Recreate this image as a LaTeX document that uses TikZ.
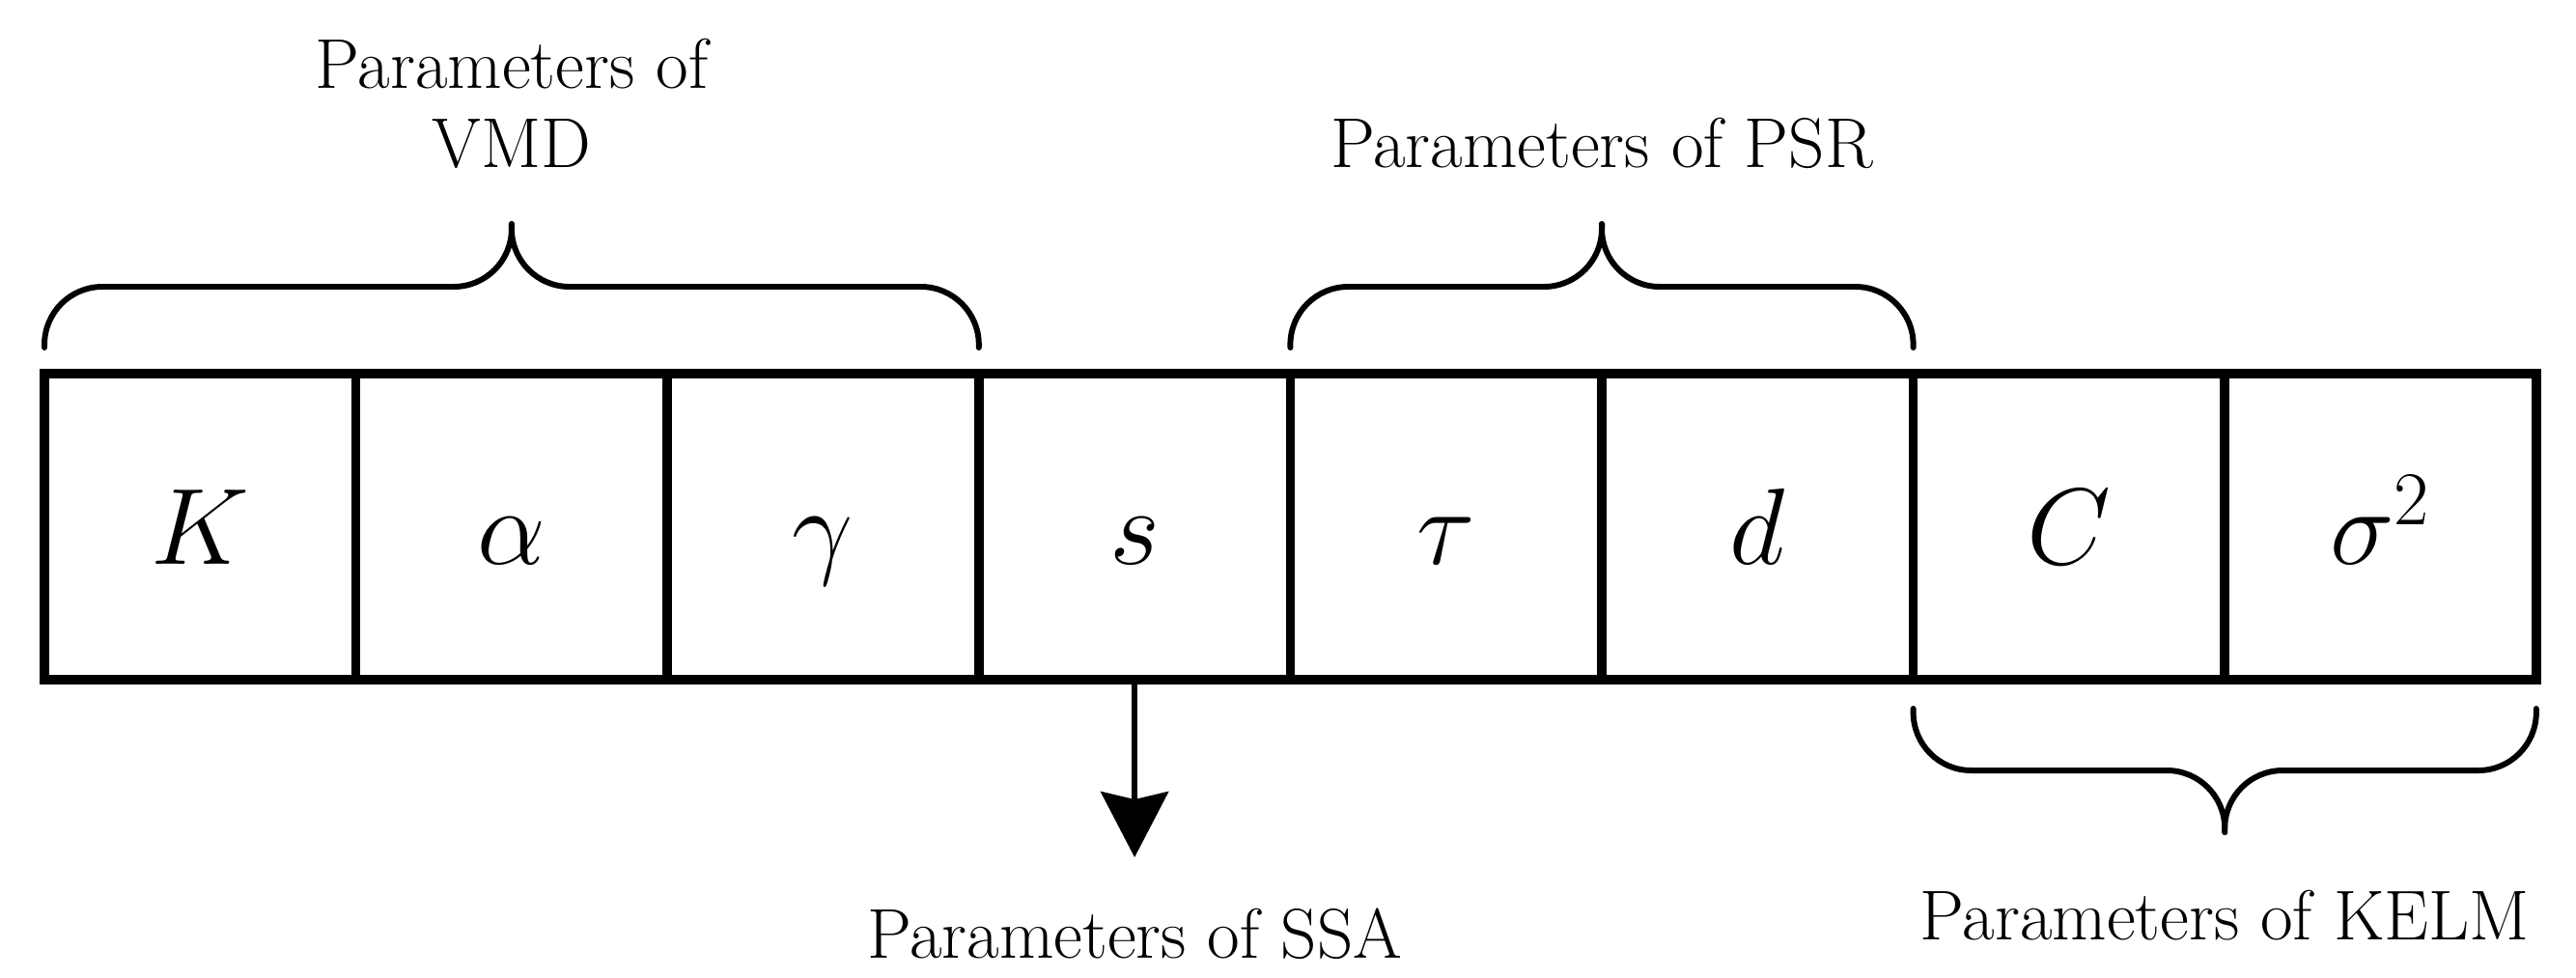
\RequirePackage{fix-cm}
\documentclass[tikz,border=0pt]{standalone}
\usetikzlibrary{positioning,arrows.meta}

\begin{document}
\begin{tikzpicture}[>={Stealth[length=6.8mm,width=7mm,inset=0.8mm]},
  cell/.style={draw,line width=2.7pt,minimum width=3.226cm,minimum height=3.17cm,
    inner sep=0pt,outer sep=0pt,text height=0.78cm,text depth=0pt,
    font=\fontsize{32}{38}\selectfont},
  grpbrace/.style={line width=1.7pt,rounded corners=6mm,line cap=round},
  partext/.style={inner sep=0pt,align=center,font=\fontsize{20.8}{23.3}\selectfont}]
\useasboundingbox (0,0) rectangle (26.68,10.12);
\node[cell] (cK) at (2.073,4.665) {$K$};
\node[cell,right=0pt of cK] (calpha) {$\alpha$};
\node[cell,right=0pt of calpha] (cgamma) {$\gamma$};
\node[cell,right=0pt of cgamma] (cs) {$s$};
\node[cell,right=0pt of cs] (ctau) {$\tau$};
\node[cell,right=0pt of ctau] (cd) {$d$};
\node[cell,right=0pt of cd] (cC) {$C$};
\node[cell,right=0pt of cC] (csigma) {$\sigma^2$};
% VMD
\coordinate (vmdtip) at ([yshift=15.5mm]calpha.north);
\draw[grpbrace] ([yshift=2.7mm]cK.north west) |- ([yshift=9mm]calpha.north) -- (vmdtip);
\draw[grpbrace] ([yshift=2.7mm]cgamma.north east) |- ([yshift=9mm]calpha.north) -- (vmdtip);
\node[partext,above=5.7mm of vmdtip] (vmd) {Parameters of\\VMD};
% PSR
\coordinate (psrtip) at ([yshift=15.5mm]ctau.north east);
\draw[grpbrace] ([yshift=2.7mm]ctau.north west) |- ([yshift=9mm]ctau.north east) -- (psrtip);
\draw[grpbrace] ([yshift=2.7mm]cd.north east) |- ([yshift=9mm]ctau.north east) -- (psrtip);
\node[partext,above=5.7mm of psrtip] (psr) {Parameters of PSR};
% SSA
\node[partext,below=2.36cm of cs] (ssa) {Parameters of SSA};
\draw[->,line width=1.7pt,shorten >=5.2mm] (cs) -- (ssa);
% KELM
\coordinate (kelmtip) at ([yshift=-15.8mm]cC.south east);
\draw[grpbrace] ([yshift=-3mm]cC.south west) |- ([yshift=-9.4mm]cC.south east) -- (kelmtip);
\draw[grpbrace] ([yshift=-3mm]csigma.south east) |- ([yshift=-9.4mm]cC.south east) -- (kelmtip);
\node[partext,below=5.9mm of kelmtip] (kelm) {Parameters of KELM};
\end{tikzpicture}
\end{document}
